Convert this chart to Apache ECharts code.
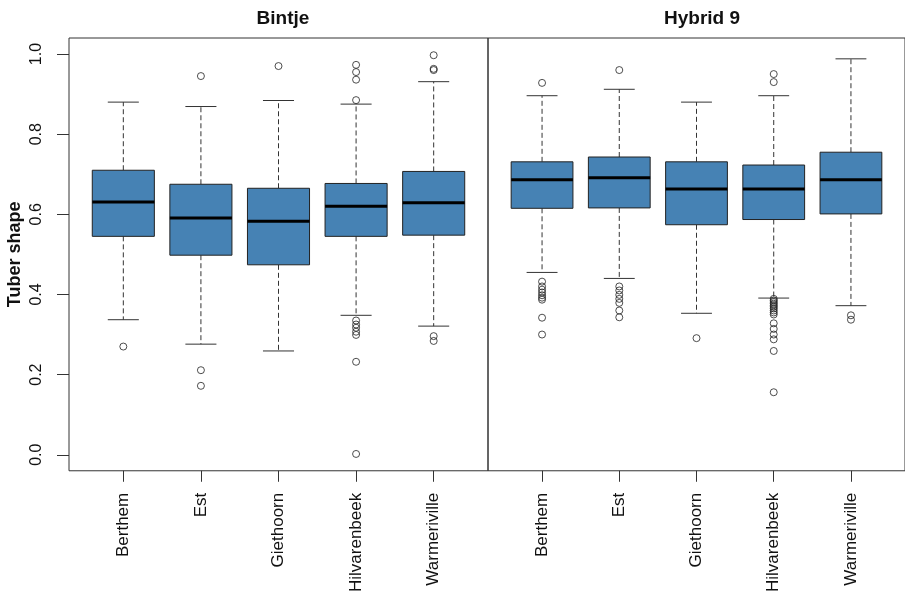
<!DOCTYPE html>
<html>
<head>
<meta charset="utf-8">
<script src="https://cdn.jsdelivr.net/npm/echarts@6/dist/echarts.min.js"></script>
<style>html,body{margin:0;padding:0;background:#fff;}#c{width:905px;height:595px;}</style>
</head>
<body>
<div id="c"></div>
<script>
// ---- data ----
const categories = ['Berthem', 'Est', 'Giethoorn', 'Hilvarenbeek', 'Warmeriville'];
const panelTitles = ['Bintje', 'Hybrid 9'];
const yTicks = [0, 0.2, 0.4, 0.6, 0.8, 1.0];

// [lower whisker, Q1, median, Q3, upper whisker]
const bintjeStats = [
  [0.337, 0.545, 0.631, 0.710, 0.880],
  [0.276, 0.498, 0.591, 0.675, 0.869],
  [0.259, 0.474, 0.583, 0.665, 0.884],
  [0.348, 0.545, 0.620, 0.677, 0.875],
  [0.321, 0.548, 0.629, 0.707, 0.931]
];
const hybridStats = [
  [0.455, 0.615, 0.686, 0.731, 0.896],
  [0.440, 0.616, 0.691, 0.743, 0.912],
  [0.353, 0.574, 0.663, 0.731, 0.880],
  [0.391, 0.587, 0.663, 0.723, 0.896],
  [0.372, 0.601, 0.686, 0.755, 0.988]
];
const bintjeOutliers = [
  [0.270],
  [0.945, 0.211, 0.172],
  [0.970],
  [0.973, 0.955, 0.936, 0.885, 0.335, 0.325, 0.317, 0.307, 0.299, 0.232, 0.002],
  [0.997, 0.963, 0.960, 0.296, 0.284]
];
const hybridOutliers = [
  [0.928, 0.432, 0.420, 0.412, 0.405, 0.398, 0.392, 0.387, 0.342, 0.300],
  [0.960, 0.420, 0.410, 0.399, 0.389, 0.379, 0.360, 0.343],
  [0.291],
  [0.950, 0.930, 0.389, 0.385, 0.381, 0.377, 0.373, 0.369, 0.365, 0.360, 0.355, 0.350, 0.328, 0.314, 0.300, 0.288, 0.259, 0.156],
  [0.348, 0.337]
];

// ---- build ----
const FONT = 'Liberation Sans, Arial, sans-serif';
const TXT = '#111';
const LINE = '#333';

function boxData(stats) {
  return stats.map((s, i) => [i + 1].concat(s));
}
function outlierData(outs) {
  const res = [];
  outs.forEach((arr, i) => arr.forEach(v => res.push([i + 1, v])));
  return res;
}
function renderBox(params, api) {
  const x = api.value(0);
  const pLo = api.coord([x, api.value(1)]);
  const pQ1 = api.coord([x, api.value(2)]);
  const pMed = api.coord([x, api.value(3)]);
  const pQ3 = api.coord([x, api.value(4)]);
  const pHi = api.coord([x, api.value(5)]);
  const boxW = api.size([0.8, 0])[0];
  const capW = boxW / 2;
  const cx = pMed[0];
  const dash = { stroke: LINE, lineWidth: 1, lineDash: [5, 3] };
  const solid = { stroke: LINE, lineWidth: 1 };
  return {
    type: 'group',
    children: [
      { type: 'line', shape: { x1: cx, y1: pQ3[1], x2: cx, y2: pHi[1] }, style: dash },
      { type: 'line', shape: { x1: cx, y1: pQ1[1], x2: cx, y2: pLo[1] }, style: dash },
      { type: 'line', shape: { x1: cx - capW / 2, y1: pHi[1], x2: cx + capW / 2, y2: pHi[1] }, style: solid },
      { type: 'line', shape: { x1: cx - capW / 2, y1: pLo[1], x2: cx + capW / 2, y2: pLo[1] }, style: solid },
      { type: 'rect', shape: { x: cx - boxW / 2, y: pQ3[1], width: boxW, height: pQ1[1] - pQ3[1] },
        style: { fill: '#4682B4', stroke: '#222', lineWidth: 1 } },
      { type: 'line', shape: { x1: cx - boxW / 2, y1: pMed[1], x2: cx + boxW / 2, y2: pMed[1] },
        style: { stroke: '#000', lineWidth: 3 } }
    ]
  };
}

const grids = [
  { left: 69, right: 417, top: 38, bottom: 121 },
  { left: 488, right: 0, top: 38, bottom: 121 }
];

const xAxes = grids.map((g, i) => ({
  type: 'value', gridIndex: i, min: 0.3, max: 5.7,
  splitLine: { show: false },
  axisLine: { show: false, onZero: false },
  axisTick: { show: true, length: 11, lineStyle: { color: LINE }, customValues: [1, 2, 3, 4, 5] },
  axisLabel: {
    customValues: [1, 2, 3, 4, 5], rotate: 90, margin: 22,
    fontFamily: FONT, fontSize: 17, color: TXT,
    formatter: v => categories[Math.round(v) - 1]
  }
}));

const yAxes = [
  {
    type: 'value', gridIndex: 0, min: -0.04, max: 1.04,
    splitLine: { show: false },
    axisLine: { show: false, onZero: false },
    axisTick: { show: true, length: 12, lineStyle: { color: LINE }, customValues: yTicks },
    axisLabel: {
      customValues: yTicks, rotate: 90, margin: 24,
      fontFamily: FONT, fontSize: 16, color: TXT,
      formatter: v => v.toFixed(1)
    },
    name: 'Tuber shape', nameLocation: 'middle', nameGap: 45, nameRotate: 90,
    nameTextStyle: { fontFamily: FONT, fontSize: 18, fontWeight: 'bold', color: TXT }
  },
  {
    type: 'value', gridIndex: 1, min: -0.04, max: 1.04, show: false,
    axisLine: { onZero: false },
    splitLine: { show: false }
  }
];

const allStats = [bintjeStats, hybridStats];
const allOut = [bintjeOutliers, hybridOutliers];
const series = [];
allStats.forEach((st, i) => {
  series.push({
    type: 'custom', xAxisIndex: i, yAxisIndex: i,
    renderItem: renderBox,
    encode: { x: 0, y: [1, 2, 3, 4, 5] },
    data: boxData(st),
    silent: true
  });
  series.push({
    type: 'scatter', xAxisIndex: i, yAxisIndex: i,
    symbol: 'circle', symbolSize: 7,
    itemStyle: { color: 'rgba(0,0,0,0)', borderColor: '#222', borderWidth: 1 },
    data: outlierData(allOut[i]),
    silent: true
  });
});

const option = {
  animation: false,
  backgroundColor: '#fff',
  title: panelTitles.map((t, i) => ({
    text: t,
    left: i === 0 ? 278 : 697,
    textAlign: 'center',
    top: 4,
    textStyle: { fontFamily: FONT, fontSize: 19, fontWeight: 'bold', color: TXT }
  })),
  grid: grids.map(g => Object.assign({ show: true, borderColor: LINE, borderWidth: 1, backgroundColor: 'transparent' }, g)),
  xAxis: xAxes,
  yAxis: yAxes,
  series: series
};

const chart = echarts.init(document.getElementById('c'), null, { renderer: 'canvas' });
chart.setOption(option);
</script>
</body>
</html>
